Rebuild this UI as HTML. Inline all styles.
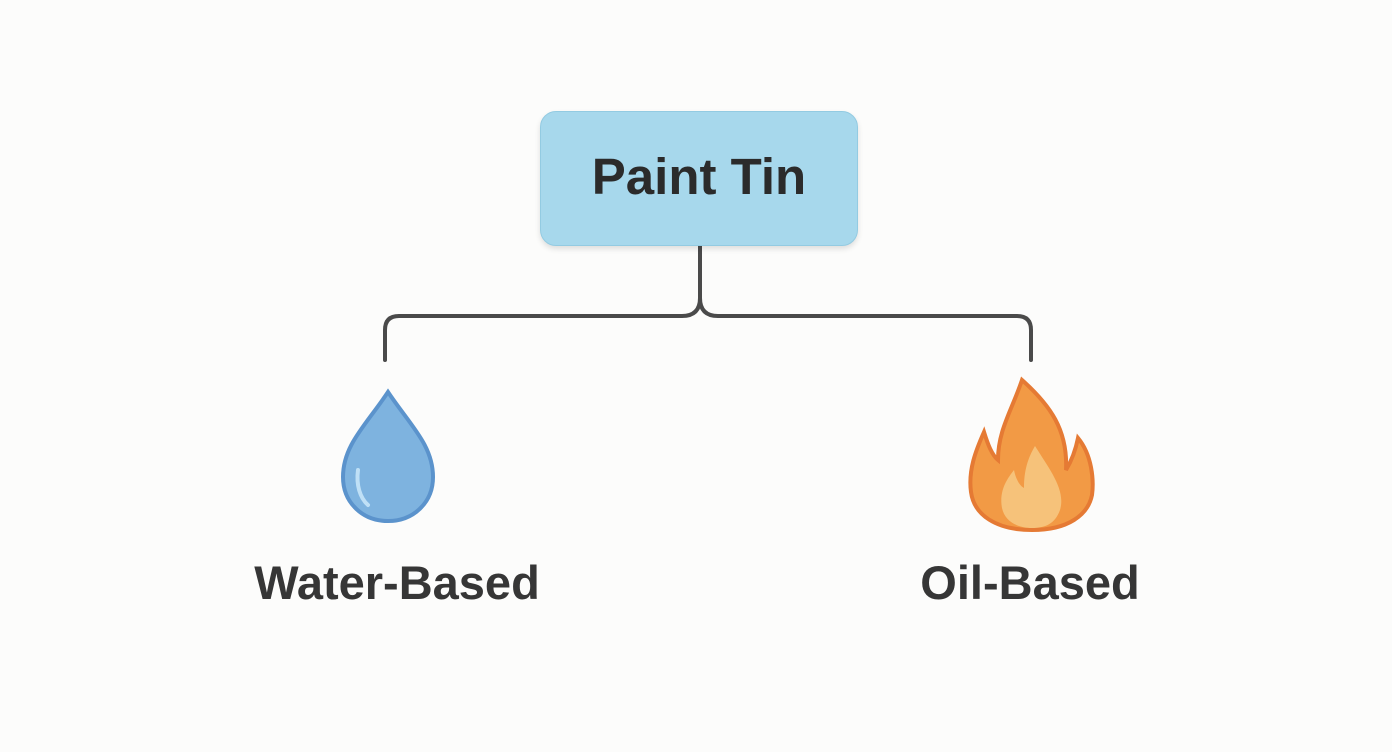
<!DOCTYPE html>
<html><head><style>
html,body{margin:0;padding:0;background:#fcfcfb;}
body{width:1392px;height:752px;position:relative;overflow:hidden;font-family:"Liberation Sans",sans-serif;}
.box{position:absolute;left:540px;top:111px;width:318px;height:135px;background:#a7d8ec;border:1px solid #93cbe2;border-radius:16px;box-sizing:border-box;box-shadow:0 3px 6px rgba(0,0,0,0.12);display:flex;align-items:center;justify-content:center;font-size:51px;font-weight:bold;color:#2b2b2b;padding-bottom:4px;}
.lbl{position:absolute;font-size:47px;font-weight:bold;color:#363636;transform:translateX(-50%);top:555px;white-space:nowrap;}
</style></head><body>
<svg width="1392" height="752" style="position:absolute;left:0;top:0">
<path d="M700 246 V298 Q700 316 682 316 H399 Q385 316 385 330 V360" fill="none" stroke="#4a4a4a" stroke-width="4" stroke-linecap="round"/>
<path d="M700 298 Q700 316 718 316 H1017 Q1031 316 1031 330 V360" fill="none" stroke="#4a4a4a" stroke-width="4" stroke-linecap="round"/>
<path d="M388 392 C410 425 433 445 433 477 C433 503 413 521 388 521 C363 521 343 503 343 477 C343 445 366 425 388 392 Z" fill="#7eb3df" stroke="#5b93cc" stroke-width="4"/>
<path d="M358 470 C356 485 360 498 368 505" fill="none" stroke="#bfe0f6" stroke-width="4" stroke-linecap="round"/>
<path d="M1022 380 C1050 405 1068 430 1066 470 C1072 460 1076 448 1078 438 C1092 455 1094 480 1092 495 C1088 515 1068 530 1032 530 C996 530 974 515 971 492 C968 470 976 450 984 432 C988 445 992 455 998 460 C998 430 1012 410 1022 380 Z" fill="#f29a45" stroke="#e57a34" stroke-width="4"/>
<path d="M1035 446 C1050 470 1066 490 1060 510 C1055 524 1045 528 1032 528 C1018 528 1005 522 1002 508 C999 492 1006 480 1014 470 C1016 480 1020 486 1024 488 C1024 470 1028 458 1035 446 Z" fill="#f6c27a"/>
</svg>
<div class="box">Paint Tin</div>
<div class="lbl" style="left:397px">Water-Based</div>
<div class="lbl" style="left:1030px">Oil-Based</div>
</body></html>
